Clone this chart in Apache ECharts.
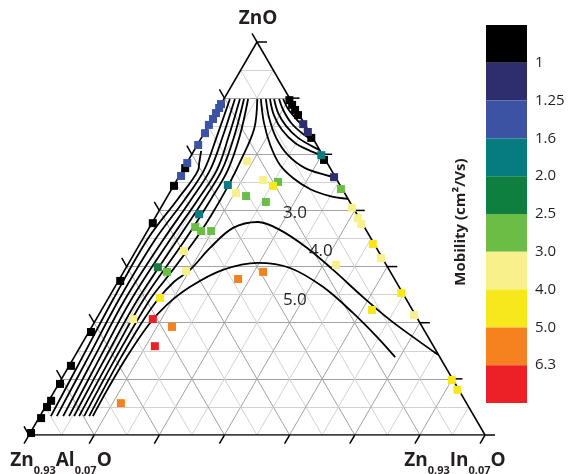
<!DOCTYPE html>
<html><head><meta charset="utf-8">
<script src="https://cdn.jsdelivr.net/npm/echarts@6/dist/echarts.min.js"></script>
<style>html,body{margin:0;padding:0;background:#fff}#c{width:571px;height:474px}</style>
</head><body><div id="c"></div>
<script>
// ---------- data (compositions in %: [ZnO, In]; Al = 100 - ZnO - In) ----------
const mobilityTicks = ['1', '1.25', '1.6', '2.0', '2.5', '3.0', '4.0', '5.0', '6.3'];
const mobilityBounds = [1, 1.25, 1.6, 2.0, 2.5, 3.0, 4.0, 5.0, 6.3];
const binColors = ['#000000', '#2e2e6f', '#3c52a2', '#067b80', '#0f7f40', '#6cbd45', '#f8f08a', '#f6e81d', '#f5821f', '#ec2127'];

// samples along the ZnO–Zn0.93Al0.07O edge: [ZnO, In, mobility]
const leftEdgeSamples = [
  [0.5, 0.2, 0.9], [4.3, 0.5, 0.9], [7.1, 0.4, 0.9], [8.7, 0.5, 0.9], [13.0, 0.3, 0.9],
  [17.6, 0.4, 0.9], [26.2, 0.5, 0.9], [39.2, 0.4, 0.9], [53.9, 0.2, 0.9], [63.4, 0.1, 0.9],
  [67.9, 0.3, 0.9],
  [65.9, 0.4, 1.4], [69.2, 0.1, 1.4], [73.8, 0.2, 1.4], [76.8, 0.2, 1.4], [78.9, 0.0, 1.4],
  [80.4, 0.15, 1.4], [81.9, 0.05, 1.4], [83.2, 0.1, 1.4], [84.2, 0.0, 1.4]
];
// samples along the ZnO–Zn0.93In0.07O edge: [ZnO, In, mobility]
const rightEdgeSamples = [
  [85.2, 14.5, 0.9], [84.0, 15.7, 0.9], [82.7, 17.0, 0.9], [81.4, 18.3, 0.9], [75.6, 24.1, 0.9], [70.0, 29.7, 0.9],
  [79.1, 20.6, 1.1], [77.1, 22.6, 1.1], [65.6, 34.1, 1.1],
  [71.2, 28.5, 1.8],
  [62.6, 37.1, 2.7],
  [57.8, 41.9, 3.5], [55.2, 44.5, 3.5], [53.7, 46.0, 3.5], [45.0, 54.7, 3.5], [30.5, 69.2, 3.5],
  [48.6, 51.1, 4.5], [36.1, 63.6, 4.5], [14.0, 85.7, 4.5], [11.5, 88.2, 4.5]
];
// interior samples: [ZnO, In, mobility]
const interiorSamples = [
  [63.6, 11.8, 1.8], [61.6, 14.6, 3.5], [60.8, 17.2, 2.7], [59.3, 22.3, 2.7], [64.9, 18.9, 3.5],
  [64.4, 22.4, 2.7], [63.4, 21.8, 4.5], [69.7, 13.0, 3.5], [56.2, 9.2, 1.8], [52.9, 10.0, 2.7],
  [51.9, 11.8, 2.7], [51.9, 14.0, 2.7], [46.8, 10.6, 3.5], [42.7, 6.9, 2.2], [41.5, 9.5, 2.7],
  [41.7, 13.6, 3.5], [34.9, 11.3, 4.5], [29.5, 8.1, 3.5], [29.5, 12.4, 7.0], [27.5, 17.6, 5.6],
  [22.6, 16.3, 7.0], [8.1, 16.1, 5.6], [39.7, 26.0, 5.6], [41.5, 30.6, 5.6], [43.3, 45.7, 3.5],
  [31.8, 59.3, 4.5]
];

// iso-mobility contours: [ZnO, In]
const contourR1 = [[85.5, 13.0], [83.0, 15.3], [80.4, 18.4], [78.1, 21.5], [77.4, 22.6]];
const contourR2 = [[85.5, 12.1], [82.7, 14.4], [79.4, 17.8], [76.6, 21.8], [74.8, 25.2]];
const contourR3 = [[85.5, 11.0], [81.9, 13.7], [78.6, 17.1], [75.6, 21.2], [73.5, 25.3], [72.5, 27.5]];
const contourR4 = [[85.5, 10.1], [81.4, 13.0], [77.6, 16.7], [74.3, 21.2], [72.3, 25.5], [71.0, 29.0]];
const contourR5 = [[85.5, 9.2], [80.7, 12.3], [75.6, 16.4], [71.2, 21.2], [67.9, 26.6], [66.2, 31.8], [65.6, 34.4]];
const contour30 = [[85.5, 8.1], [79.6, 11.7], [73.8, 16.0], [68.7, 20.7], [65.4, 25.2], [62.6, 30.3], [60.8, 35.6], [60.1, 39.9]];
const contour40 = [[4.8, 10.8], [12, 10.5], [20, 10.3], [28, 10.4], [34.4, 11.0], [39, 12.3], [42.0, 14.3], [47.6, 15.9],
  [52.7, 18.4], [54.2, 23.1], [52.2, 28.9], [47.6, 37.2], [42.0, 45.7], [35.1, 55.7], [29.3, 64.5], [24.2, 73.0], [20.4, 79.5]];
const contour50 = [[4.8, 11.6], [12, 11.4], [20, 11.5], [28, 12.2], [33, 13.6], [37.7, 16.5], [42.0, 21.5], [43.8, 28.3],
  [42.5, 36.0], [37.7, 45.6], [31.0, 55.6], [24.9, 63.9], [19.8, 70.4]];
const contourL1 = [[72.3, 1.6], [69, 2.8], [67.4, 3.4], [60, 2.6], [50, 1.1], [34.4, 1.2], [20, 1.8], [4.8, 2.4]];
const contourL2 = [[85.5, 1.3], [76, 3.2], [67.4, 4.7], [60, 4.2], [49.6, 2.8], [34.4, 2.5], [20, 3.1], [4.8, 3.7]];
const contourL3 = [[85.5, 2.4], [76, 4.5], [67.4, 6.0], [60, 5.6], [49.6, 4.6], [34.4, 3.8], [20, 4.4], [4.8, 5.1]];
const contourL4 = [[85.5, 3.5], [76, 5.8], [67.4, 7.5], [60, 7.1], [49.6, 6.1], [34.4, 5.2], [20, 5.7], [4.8, 6.4]];
const contourL5 = [[85.5, 4.4], [76, 7.0], [67.4, 8.6], [60, 8.4], [49.6, 7.7], [34.4, 6.6], [20, 6.9], [4.8, 7.5]];
const contourL6 = [[85.5, 5.3], [76, 8.2], [67.4, 9.9], [60, 9.9], [49.6, 9.4], [34.4, 7.9], [20, 8.1], [4.8, 8.6]];
const contourL7 = [[85.5, 7.3], [78, 10.4], [70, 11.5], [63, 12.0], [56, 12.0], [49.6, 11.6], [40, 10.2], [34.4, 9.3],
  [20, 9.2], [4.8, 9.7]];
const contourLabels = [['3.0', 56.5, 30.1], ['4.0', 46.8, 40.6], ['5.0', 34.4, 41.1]];

// ---------- helpers ----------
const FONT = '"Open Sans", "Noto Sans", sans-serif';
const toXY = p => [p[1] + p[0] / 2, p[0]];            // ternary -> cartesian (0..100)
const samples = leftEdgeSamples.concat(rightEdgeSamples, interiorSamples)
  .map(s => toXY(s).concat([s[2]]));

const pieces = [];
for (let i = 0; i < binColors.length; i++) {
  const p = { color: binColors[i] };
  if (i > 0) p.gte = mobilityBounds[i - 1];
  if (i < mobilityBounds.length) p.lt = mobilityBounds[i];
  pieces.push(p);
}

// triangular grid
const gridSegs = [];
for (let k = 1; k < 14; k++) {
  const t = k * 100 / 14;
  const st = k % 2 === 0 ? { color: '#a3a3a3', width: 1 } : { color: '#d2d2d2', width: 1 };
  gridSegs.push({ coords: [[t / 2, t], [100 - t / 2, t]], lineStyle: st });
  gridSegs.push({ coords: [[t, 0], [t + (100 - t) / 2, 100 - t]], lineStyle: st });
  gridSegs.push({ coords: [[100 - t, 0], [(100 - t) / 2, 100 - t]], lineStyle: st });
}
const edgeSegs = [
  { coords: [[0, 0], [100, 0]] }, { coords: [[0, 0], [50, 100]] }, { coords: [[100, 0], [50, 100]] }
];
// ticks: [x, y, dir]  dir 0 = right (ZnO), 1 = up-left (Al), 2 = down-left (In)
const ticks = [];
for (let k = 0; k <= 7; k++) {
  const t = k * 100 / 7;
  ticks.push([100 - t / 2, t, 0]);
  ticks.push([t / 2, t, 1]);
  ticks.push([t, 0, 2]);
}
const tickDirs = [[1, 0], [-0.5, -0.866], [-0.5, 0.866]];

const contourList = [contourR1, contourR2, contourR3, contourR4, contourR5, contour30, contour40, contour50,
  contourL1, contourL2, contourL3, contourL4, contourL5, contourL6, contourL7];

const series = [
  { type: 'lines', coordinateSystem: 'cartesian2d', xAxisIndex: 0, yAxisIndex: 0, data: gridSegs, silent: true, z: 1,
    lineStyle: { opacity: 1 } },
  { type: 'lines', coordinateSystem: 'cartesian2d', xAxisIndex: 0, yAxisIndex: 0, data: edgeSegs, silent: true, z: 3,
    lineStyle: { color: '#000', width: 1.5, opacity: 1 } },
  { type: 'custom', coordinateSystem: 'cartesian2d', xAxisIndex: 0, yAxisIndex: 0, data: ticks, silent: true, z: 3,
    renderItem: (params, api) => {
      const p = api.coord([api.value(0), api.value(1)]);
      const d = tickDirs[api.value(2)];
      return { type: 'line', shape: { x1: p[0], y1: p[1], x2: p[0] + d[0] * 10, y2: p[1] + d[1] * 10 },
        style: { stroke: '#000', lineWidth: 1.5 } };
    } }
];
contourList.forEach(c => series.push({
  type: 'line', xAxisIndex: 0, yAxisIndex: 0, data: c.map(toXY), smooth: 0.35, showSymbol: false, silent: true, z: 4,
  lineStyle: { color: '#000', width: 1.8 }
}));
const scatterIndex = series.length;
series.push({ type: 'scatter', xAxisIndex: 0, yAxisIndex: 0, data: samples, symbol: 'rect', symbolSize: 8, z: 5, silent: true,
  itemStyle: { opacity: 1 } });
series.push({ type: 'scatter', xAxisIndex: 0, yAxisIndex: 0, symbolSize: 0, z: 6, silent: true,
  itemStyle: { opacity: 1 },
  data: contourLabels.map(l => ({ name: l[0], value: toXY([l[1], l[2]]) })),
  label: { show: true, position: 'inside', formatter: '{b}', fontSize: 17, color: '#231f20', fontFamily: FONT,
    opacity: 1, textBorderWidth: 0, textBorderColor: 'transparent' } });
// colour bar
binColors.forEach((col, i) => series.push({
  type: 'bar', xAxisIndex: 1, yAxisIndex: 1, stack: 'cb', data: [1], barWidth: '100%', silent: true,
  itemStyle: { color: col }
}));

const subRich = {
  m: { fontSize: 19, fontWeight: 'bold', fontFamily: FONT, lineHeight: 24, fill: '#231f20', color: '#231f20' },
  s: { fontSize: 11, fontWeight: 'bold', fontFamily: FONT, lineHeight: 24, padding: [20, 0, 0, 0], fill: '#231f20', color: '#231f20' }
};

const option = {
  animation: false,
  backgroundColor: '#fff',
  grid: [
    { left: 29, top: 42, width: 456, height: 393 },
    { left: 486, top: 25, width: 41, height: 378 }
  ],
  xAxis: [
    { type: 'value', min: 0, max: 100, show: false, gridIndex: 0 },
    { type: 'category', data: ['mobility'], show: false, gridIndex: 1 }
  ],
  yAxis: [
    { type: 'value', min: 0, max: 100, show: false, gridIndex: 0 },
    { type: 'value', min: 0, max: 10, interval: 1, inverse: true, position: 'right', gridIndex: 1,
      axisLine: { show: false }, axisTick: { show: false }, splitLine: { show: false },
      axisLabel: { formatter: v => (v >= 1 && v <= 9 ? mobilityTicks[v - 1] : ''), fontSize: 15, color: '#231f20',
        fontFamily: FONT, margin: 8 } }
  ],
  visualMap: { type: 'piecewise', show: false, dimension: 2, seriesIndex: scatterIndex, pieces: pieces },
  graphic: [
    { type: 'text', x: 258, y: 19, style: { text: 'ZnO', font: 'bold 19px ' + FONT, fill: '#231f20',
      align: 'center', verticalAlign: 'middle', textAlign: 'center', textVerticalAlign: 'middle' } },
    { type: 'text', x: 61, y: 461, style: { text: '{m|Zn}{s|0.93}{m|Al}{s|0.07}{m|O}', rich: subRich,
      align: 'center', verticalAlign: 'middle', textAlign: 'center', textVerticalAlign: 'middle' } },
    { type: 'text', x: 455, y: 461, style: { text: '{m|Zn}{s|0.93}{m|In}{s|0.07}{m|O}', rich: subRich,
      align: 'center', verticalAlign: 'middle', textAlign: 'center', textVerticalAlign: 'middle' } },
    { type: 'text', x: 461, y: 222, rotation: Math.PI / 2, style: { text: 'Mobility (cm\u00B2/Vs)', font: 'bold 15px ' + FONT,
      fill: '#231f20', align: 'center', verticalAlign: 'middle', textAlign: 'center', textVerticalAlign: 'middle' } }
  ],
  series: series
};
const chart = echarts.init(document.getElementById('c'));
chart.setOption(option);
</script></body></html>
